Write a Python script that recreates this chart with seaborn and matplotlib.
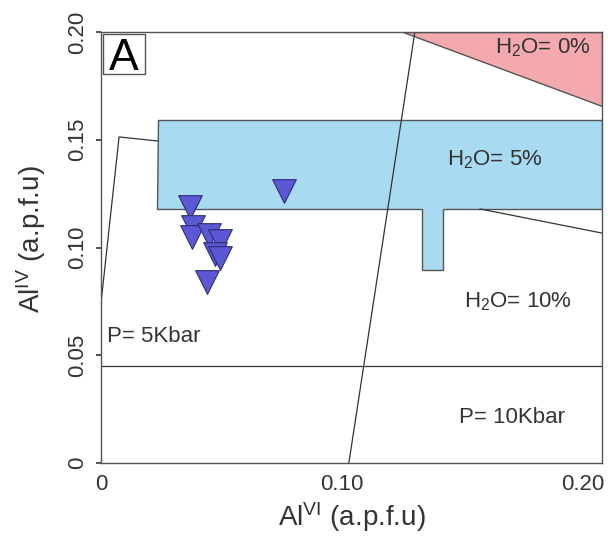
import matplotlib
matplotlib.use("Agg")
import matplotlib.pyplot as plt
from matplotlib.patches import Polygon, Rectangle
import seaborn as sns
import pandas as pd

# Amphibole analyses: Al(VI) vs Al(IV), atoms per formula unit
al_vi = [0.0370, 0.0384, 0.0378, 0.0448, 0.0494, 0.0473, 0.0494, 0.0440, 0.0760]
al_iv = [0.1186, 0.1095, 0.1049, 0.1058, 0.1030, 0.0972, 0.0951, 0.0838, 0.1262]

# Field boundaries (Al VI, Al IV)
field_h2o_5 = [(0.0237, 0.1592), (0.2080, 0.1592), (0.2080, 0.1179), (0.1419, 0.1179),
               (0.1419, 0.0896), (0.1332, 0.0896), (0.1332, 0.1179), (0.0232, 0.1179)]
field_h2o_0 = [(0.1253, 0.2000), (0.2080, 0.2000), (0.2080, 0.1657)]
line_pressure_x = [0.1303, 0.1029]
line_pressure_y = [0.2000, 0.0000]
line_p5_x = [0.0, 0.2080]
line_p5_y = [0.0450, 0.0450]
line_left_x = [0.0, 0.0075, 0.0237]
line_left_y = [0.0742, 0.1513, 0.1494]
line_h2o10_x = [0.1573, 0.2080]
line_h2o10_y = [0.1179, 0.1067]

x_ticks = [0, 0.10, 0.20]
x_tick_labels = ["0", "0.10", "0.20"]
y_ticks = [0, 0.05, 0.10, 0.15, 0.20]
y_tick_labels = ["0", "0.05", "0.10", "0.15", "0.20"]

sns.set_theme(style="white")
plt.rcParams["font.family"] = ["Liberation Sans", "DejaVu Sans"]
plt.rcParams["mathtext.fontset"] = "custom"
plt.rcParams["mathtext.rm"] = "Liberation Sans"
plt.rcParams["mathtext.it"] = "Liberation Sans"

ink = "#333333"

fig = plt.figure(figsize=(6.08, 5.42), dpi=100)
ax = fig.add_axes([101 / 608, 79 / 542, 501 / 608, 431 / 542])

ax.add_patch(Polygon(field_h2o_5, closed=True, facecolor="#a8daf2",
                     edgecolor="#555555", linewidth=1.0, zorder=1))
ax.add_patch(Polygon(field_h2o_0, closed=True, facecolor="#f3a9ae",
                     edgecolor="#555555", linewidth=1.0, zorder=1))

for xs, ys in [(line_pressure_x, line_pressure_y), (line_p5_x, line_p5_y),
               (line_left_x, line_left_y), (line_h2o10_x, line_h2o10_y)]:
    ax.plot(xs, ys, color=ink, linewidth=0.9, zorder=2)

df = pd.DataFrame({"AlVI": al_vi, "AlIV": al_iv})
sns.scatterplot(data=df, x="AlVI", y="AlIV", marker="v", s=290,
                color="#5a58d2", edgecolor="#2c2c78", linewidth=0.8,
                ax=ax, zorder=3, legend=False)

txt_kw = dict(fontsize=16, color=ink, ha="center", va="center", zorder=4)
ax.text(0.1835, 0.1926, r"H$_2$O= 0%", **txt_kw)
ax.text(0.1636, 0.1406, r"H$_2$O= 5%", **txt_kw)
ax.text(0.1731, 0.0747, r"H$_2$O= 10%", **txt_kw)
ax.text(0.0025, 0.0585, "P= 5Kbar", fontsize=16, color=ink, ha="left",
        va="center", zorder=4)
ax.text(0.1706, 0.0213, "P= 10Kbar", **txt_kw)

# panel letter in a framed box
ax.add_patch(Rectangle((0.004, 0.903), 0.084, 0.092, transform=ax.transAxes,
                       facecolor="white", edgecolor="#555555", linewidth=1.0,
                       zorder=5))
ax.text(0.045, 0.912, "A", transform=ax.transAxes, fontsize=32, color="black",
        ha="center", va="baseline", zorder=6)

ax.set_xlim(0, 0.208)
ax.set_ylim(0, 0.20)
ax.set_xticks(x_ticks)
ax.set_xticklabels(x_tick_labels)
ax.set_yticks(y_ticks)
ax.set_yticklabels(y_tick_labels, rotation=90, va="center")
ax.tick_params(axis="x", length=0, pad=8, labelsize=16, labelcolor=ink)
ax.tick_params(axis="y", length=3.6, width=1.2, pad=5.5, labelsize=16,
               labelcolor=ink, color=ink, left=True)

for sp in ax.spines.values():
    sp.set_color("#555555")
    sp.set_linewidth(1.0)

ax.set_xlabel(r"Al$^{\mathrm{VI}}$ (a.p.f.u)", fontsize=20, color=ink)
ax.set_ylabel(r"Al$^{\mathrm{IV}}$ (a.p.f.u)", fontsize=20, color=ink)
ax.xaxis.set_label_coords(0.5, -0.086)
ax.yaxis.set_label_coords(-0.105, 0.52)

fig.savefig("out.png", dpi=100)
